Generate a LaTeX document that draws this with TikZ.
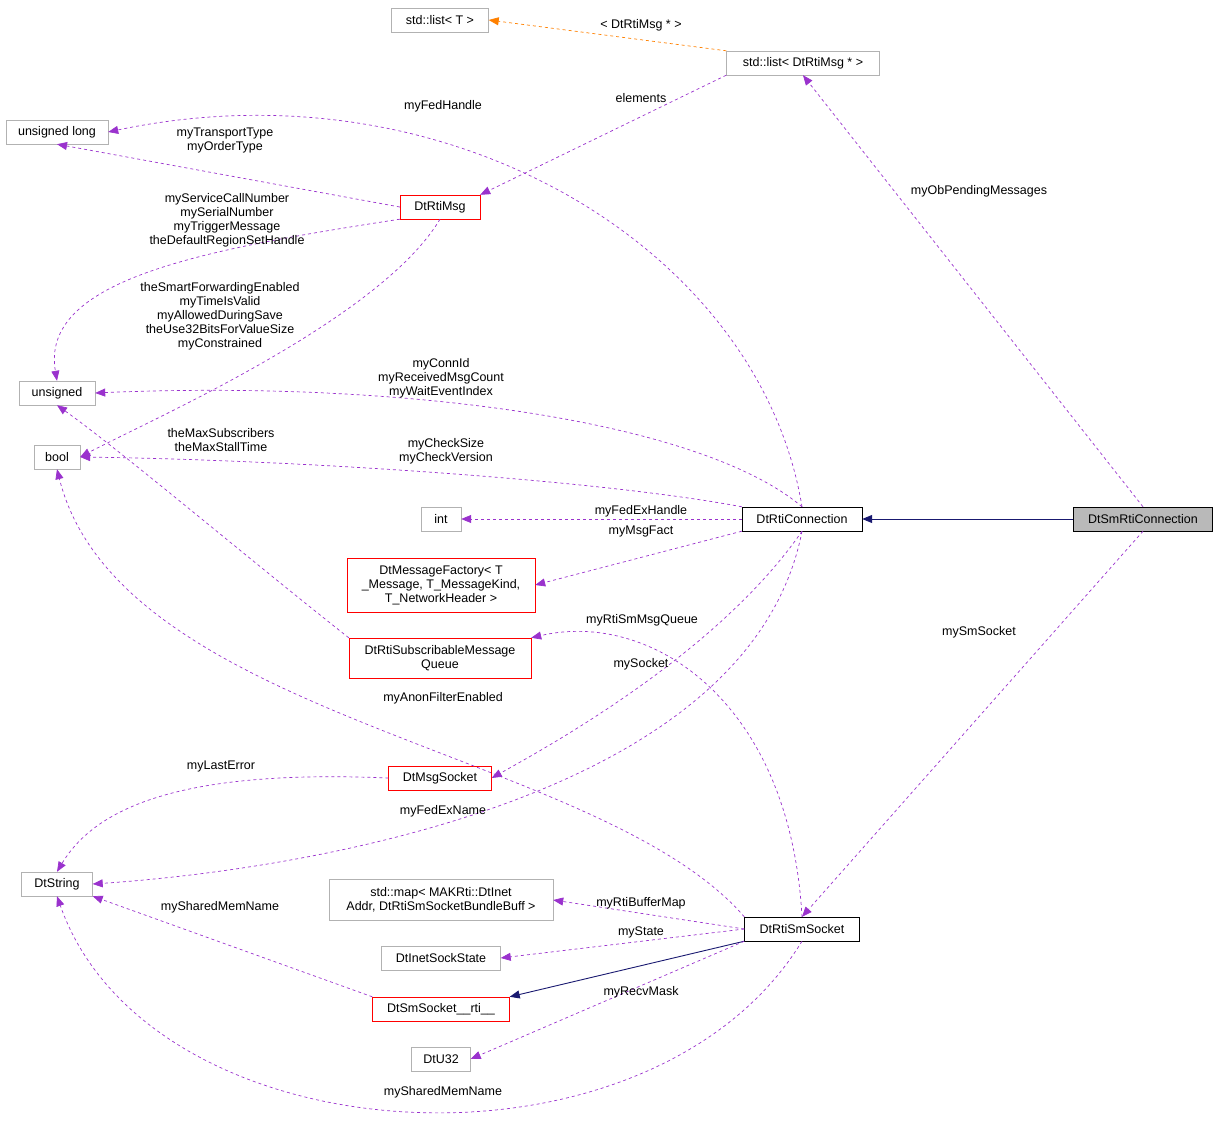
\documentclass[tikz,border=0pt]{standalone}
\usepackage{fontspec}
\setmainfont{Liberation Sans}
\usetikzlibrary{arrows.meta}
\definecolor{orchid}{RGB}{154,50,205}
\definecolor{navyline}{RGB}{25,25,112}
\tikzset{
  cls/.style={draw=gray!60, rectangle, inner sep=3pt, minimum height=24pt, align=center, font=\fontsize{12.5}{14}\selectfont},
  redcls/.style={cls, draw=red},
  blk/.style={cls, draw=black},
  use/.style={-{Triangle[length=10pt,width=8pt]}, dashed, draw=orchid, line width=0.7pt},
  inh/.style={-{Triangle[length=10pt,width=8pt]}, draw=navyline, line width=0.9pt},
  lbl/.style={align=center, font=\fontsize{12.5}{14}\selectfont, inner sep=1pt}
}
\begin{document}
\begin{tikzpicture}[x=1pt,y=-1pt]
        \useasboundingbox (0,0) rectangle (1219,1134);

        % the classes
        \node[cls, minimum width=97pt] (listT) at (440,20) {std::list< T >};
        \node[cls, minimum width=153pt] (listMsg) at (803,63) {std::list< DtRtiMsg * >};
        \node[cls, minimum width=102pt] (ulong) at (57,132) {unsigned long};
        \node[redcls, minimum width=80pt] (msg) at (440,207) {DtRtiMsg};
        \node[cls, minimum width=76pt] (unsig) at (57,393) {unsigned};
        \node[cls, minimum width=46pt] (bool) at (57,457) {bool};
        \node[cls, minimum width=40pt] (int) at (441,519) {int};
        \node[blk, minimum width=120pt] (conn) at (802,519) {DtRtiConnection};
        \node[cls, fill=gray!55, draw=black, minimum width=139pt] (smconn) at (1143,519) {DtSmRtiConnection};
        \node[redcls, minimum width=188pt, minimum height=54pt] (factory) at (441,585) {DtMessageFactory< T\\\_Message, T\_MessageKind,\\T\_NetworkHeader >};
        \node[redcls, minimum width=182pt, minimum height=40pt] (queue) at (440,658) {DtRtiSubscribableMessage\\Queue};
        \node[redcls, minimum width=103pt] (msgsock) at (440,778) {DtMsgSocket};
        \node[cls, minimum width=71pt] (str) at (57,884) {DtString};
        \node[cls, minimum width=224pt, minimum height=41pt] (map) at (441,900) {std::map< MAKRti::DtInet\\Addr, DtRtiSmSocketBundleBuff >};
        \node[blk, minimum width=115pt] (smsock) at (802,929) {DtRtiSmSocket};
        \node[cls, minimum width=119pt] (inet) at (441,958) {DtInetSockState};
        \node[redcls, minimum width=137pt] (rti) at (441,1009) {DtSmSocket\_\_rti\_\_};
        \node[cls, minimum width=59pt] (u32) at (441,1059) {DtU32};

        % the connectors
        \draw[use, draw=orange] (listMsg.north west) -- (listT.east);
        \draw[use] (listMsg.south west) -- (msg.north east);
        \draw[use] (conn.north) .. controls (760,250) and (450,60) .. (ulong.east);
        \draw[use] (msg.west) -- (ulong.south);
        \draw[use] (msg.south west) .. controls (200,250) and (40,280) .. (unsig.north);
        \draw[use] (msg.south) .. controls (380,320) and (150,420) .. (bool.east);
        \draw[use] (conn.north) .. controls (700,420) and (400,380) .. (unsig.east);
        \draw[use] (conn.north west) .. controls (600,480) and (300,460) .. (bool.east);
        \draw[use] (conn.west) -- (int.east);
        \draw[use] (conn.south west) -- (factory.east);
        \draw[use] (queue.north west) .. controls (250,560) and (120,450) .. (unsig.south);
        \draw[use] (smsock.north) .. controls (790,700) and (650,610) .. (queue.north east);
        \draw[use] (conn.south) .. controls (720,650) and (560,740) .. (msgsock.east);
        \draw[use] (smsock.north west) .. controls (600,750) and (120,720) .. (bool.south);
        \draw[use] (msgsock.west) .. controls (200,770) and (100,800) .. (str.north);
        \draw[use] (conn.south) .. controls (750,800) and (300,870) .. (str.east);
        \draw[use] (smsock.west) -- (map.east);
        \draw[use] (smsock.west) -- (inet.east);
        \draw[inh] (smsock.south west) -- (rti.north east);
        \draw[use] (smsock.south west) -- (u32.east);
        \draw[use] (smsock.south) .. controls (650,1190) and (150,1160) .. (str.south);
        \draw[use] (rti.north west) -- (str.south east);
        \draw[inh] (smconn.west) -- (conn.east);
        \draw[use] (smconn.north) -- (listMsg.south);
        \draw[use] (smconn.south) -- (smsock.north);

        % the labels
        \node[lbl] (l1) at (641,25) {< DtRtiMsg * >};
        \node[lbl] (l2) at (641,98) {elements};
        \node[lbl] (l3) at (443,106) {myFedHandle};
        \node[lbl] (l4) at (225,140) {myTransportType\\myOrderType};
        \node[lbl] (l5) at (227,220) {myServiceCallNumber\\mySerialNumber\\myTriggerMessage\\theDefaultRegionSetHandle};
        \node[lbl] (l6) at (220,316) {theSmartForwardingEnabled\\myTimeIsValid\\myAllowedDuringSave\\theUse32BitsForValueSize\\myConstrained};
        \node[lbl] (l7) at (441,378) {myConnId\\myReceivedMsgCount\\myWaitEventIndex};
        \node[lbl] (l8) at (221,440) {theMaxSubscribers\\theMaxStallTime};
        \node[lbl] (l9) at (446,451) {myCheckSize\\myCheckVersion};
        \node[lbl] (l10) at (641,511) {myFedExHandle};
        \node[lbl] (l11) at (641,531) {myMsgFact};
        \node[lbl] (l12) at (979,191) {myObPendingMessages};
        \node[lbl] (l13) at (979,632) {mySmSocket};
        \node[lbl] (l14) at (642,620) {myRtiSmMsgQueue};
        \node[lbl] (l15) at (641,664) {mySocket};
        \node[lbl] (l16) at (443,698) {myAnonFilterEnabled};
        \node[lbl] (l17) at (221,766) {myLastError};
        \node[lbl] (l18) at (443,811) {myFedExName};
        \node[lbl] (l19) at (220,907) {mySharedMemName};
        \node[lbl] (l20) at (641,903) {myRtiBufferMap};
        \node[lbl] (l21) at (641,932) {myState};
        \node[lbl] (l22) at (641,992) {myRecvMask};
        \node[lbl] (l23) at (443,1092) {mySharedMemName};
\end{tikzpicture}
\end{document}
